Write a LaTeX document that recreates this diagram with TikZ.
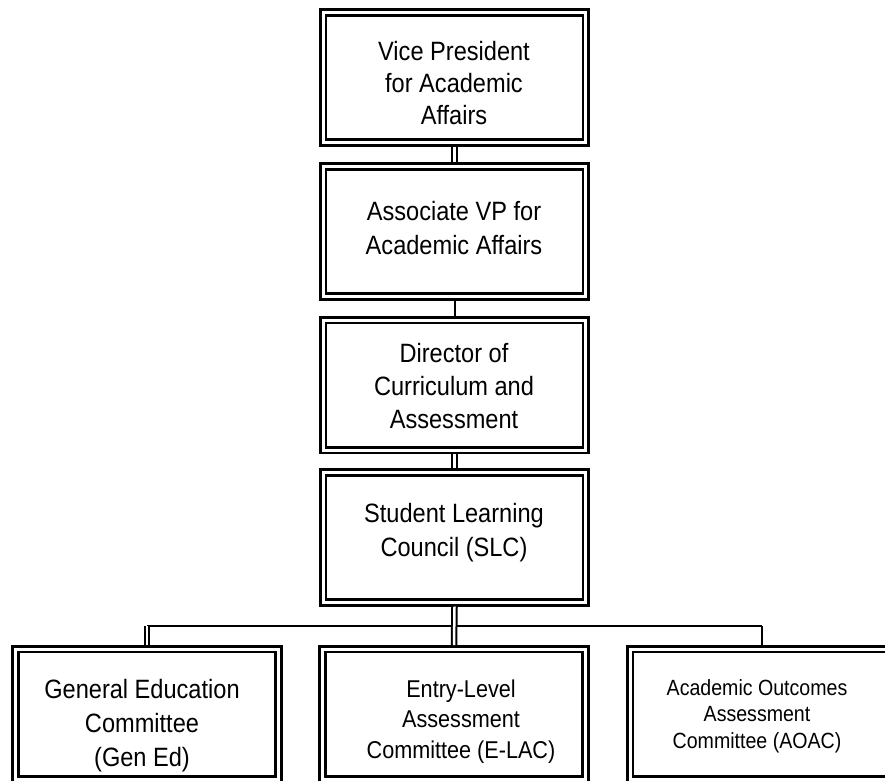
\documentclass[tikz,border=0pt]{standalone}
\usepackage{fontspec}
\setmainfont{Liberation Sans}[FakeStretch=0.89]
\begin{document}
\begin{tikzpicture}[x=1pt,y=-1pt,
  box/.style={draw=black, line width=2.7pt, double=white, double distance=3pt,
    minimum width=262.7pt, minimum height=130pt, inner sep=0pt, outer sep=4.2pt},
  lbl/.style={align=center, inner sep=0pt, anchor=north},
  big/.style={font=\fontsize{26.5}{32}\selectfont},
  con/.style={draw=black, line width=2pt},
  dcon/.style={draw=black, line width=2pt, double=white, double distance=2.5pt}]
\clip (0,0) rectangle (885,780);
% boxes
\node[box] (vp)   at (454.5,77.4)  {};
\node[box] (avp)  at (454.5,231.5) {};
\node[box] (dir)  at (454.5,385)   {};
\node[box] (slc)  at (454.5,537.5) {};
\node[box] (gen)  at (147,714.2)   {};
\node[box] (elac) at (454,714.2)   {};
\node[box] (aoac) at (761.5,714.2) {};
% labels
\node[lbl,big] (t1) at (454,41) {Vice President\\for Academic\\Affairs};
\node[lbl,font=\fontsize{26.5}{34}\selectfont] (t2) at (454,201) {Associate VP for\\Academic Affairs};
\node[lbl,font=\fontsize{26.5}{33}\selectfont] (t3) at (454,343) {Director of\\Curriculum and\\Assessment};
\node[lbl,font=\fontsize{26.5}{34}\selectfont] (t4) at (454,503) {Student Learning\\Council (SLC)};
\node[lbl,font=\fontsize{26.5}{34}\selectfont] (t5) at (142,679) {General Education\\Committee\\(Gen Ed)};
\node[lbl,font=\fontsize{24.3}{30.5}\selectfont] (t6) at (461,679.5) {Entry-Level\\Assessment\\Committee (E-LAC)};
\node[lbl,font=\fontsize{22}{26.5}\selectfont] (t7) at (757,679) {Academic Outcomes\\Assessment\\Committee (AOAC)};
% connectors
\coordinate (bus) at (454,626);
\draw[dcon] (vp.south) -- (avp.north);
\draw[con] (avp.south) -- (dir.north);
\draw[dcon] (dir.south) -- (slc.north);
\draw[con] (gen.north |- bus) -- (aoac.north |- bus);
\draw[dcon] (slc.south) -- (elac.north);
\draw[dcon] (gen.north |- bus) -- (gen.north);
\draw[con] (aoac.north |- bus) -- (aoac.north);
\end{tikzpicture}
\end{document}
